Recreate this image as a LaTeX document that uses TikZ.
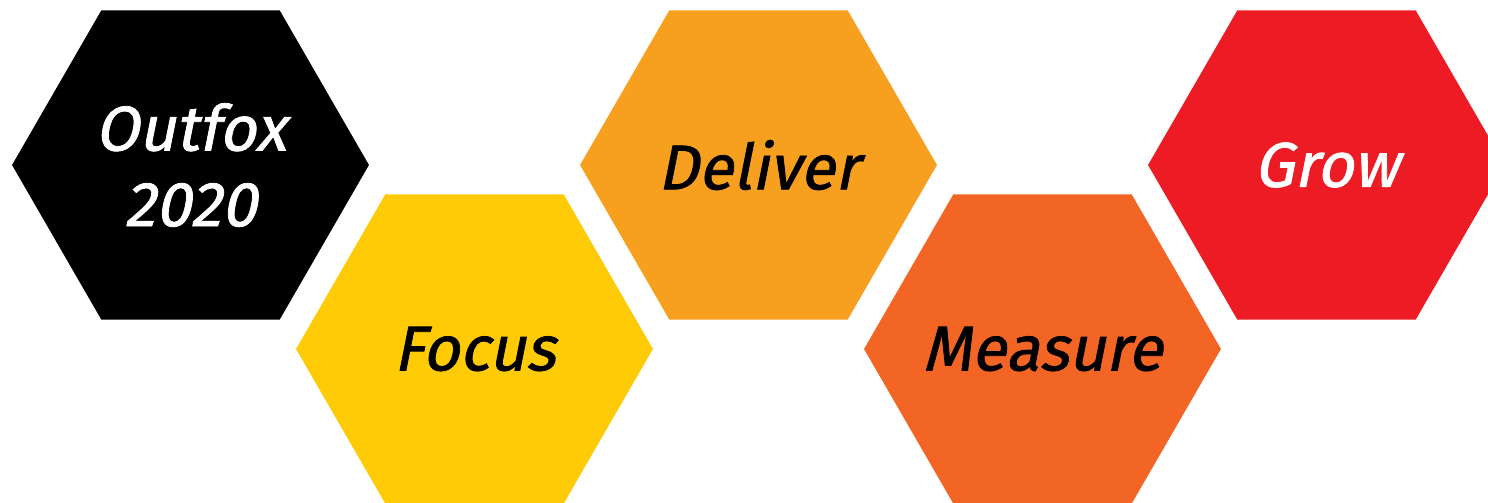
\documentclass[tikz,border=0pt]{standalone}
\usepackage{fontspec}
\newfontfamily\hexfont{Fira Sans}[FakeSlant=0.2,FakeBold=1.2]
\usetikzlibrary{shapes.geometric,positioning}
\definecolor{foxblack}{HTML}{000000}
\definecolor{focuscolor}{HTML}{FECB06}
\definecolor{delivercolor}{HTML}{F7A01F}
\definecolor{measurecolor}{HTML}{F26524}
\definecolor{growcolor}{HTML}{ED1C24}

\begin{document}
\begin{tikzpicture}[
    x=0.02cm, y=-0.02cm,
    hexa/.style={
        regular polygon,
        regular polygon sides=6,
        minimum size=7.14cm,
        inner sep=0pt,
        outer sep=0pt,
        draw=none,
        fill=#1
    },
    hextext/.style={
        align=center,
        inner sep=0pt,
        font=\hexfont\fontsize{36}{43}\selectfont
    }
]

% --- FRAME ---
\useasboundingbox (0,0) rectangle (1488,503);
\clip (0,0) rectangle (1488,503);

% --- HEXAGONS ---
% top row
\node[hexa=foxblack, label={[hextext, text=white]center:Outfox\\2020}] (outfox) at (190.5,165) {};
\node[hexa=delivercolor, label={[hextext]center:Deliver}] (deliver) at (758.5,165) {};
\node[hexa=growcolor, label={[hextext, text=white]center:Grow}] (grow) at (1326.5,165) {};

% bottom row
\node[hexa=focuscolor, label={[hextext]center:Focus}] (focus) at (474.5,349) {};
\node[hexa=measurecolor, label={[hextext]center:Measure}] (measure) at (1042.5,349) {};

\end{tikzpicture}
\end{document}
